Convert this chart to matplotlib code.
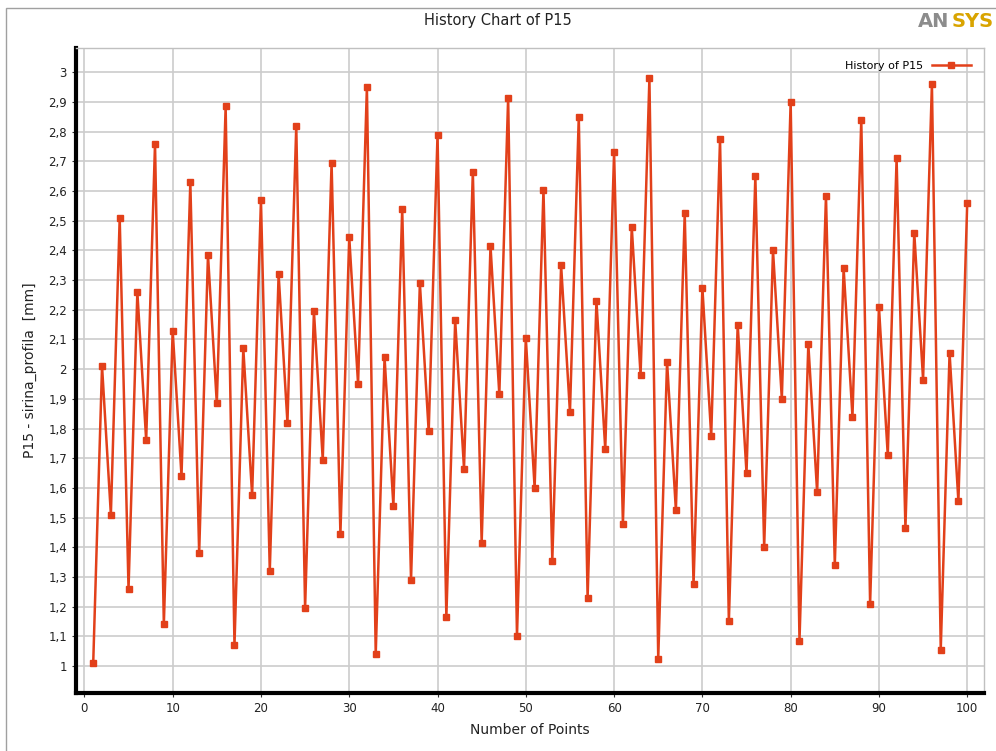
import numpy as np
import matplotlib.pyplot as plt
from matplotlib.patches import Rectangle
from matplotlib.ticker import FuncFormatter

# P15 values
points = list(range(1, 101))
p15 = [1.01, 2.01, 1.51, 2.51, 1.26, 2.26, 1.76, 2.76, 1.14, 2.13,
       1.64, 2.63, 1.38, 2.385, 1.885, 2.885, 1.07, 2.07, 1.575, 2.57,
       1.32, 2.32, 1.82, 2.82, 1.195, 2.195, 1.695, 2.695, 1.445, 2.445,
       1.95, 2.95, 1.04, 2.04, 1.54, 2.54, 1.29, 2.29, 1.79, 2.79,
       1.165, 2.165, 1.665, 2.665, 1.415, 2.415, 1.915, 2.915, 1.10, 2.105,
       1.60, 2.605, 1.355, 2.35, 1.855, 2.85, 1.23, 2.23, 1.73, 2.73,
       1.48, 2.48, 1.98, 2.98, 1.025, 2.025, 1.525, 2.525, 1.275, 2.275,
       1.775, 2.775, 1.15, 2.15, 1.65, 2.65, 1.40, 2.40, 1.90, 2.90,
       1.085, 2.085, 1.585, 2.585, 1.34, 2.34, 1.84, 2.84, 1.21, 2.21,
       1.71, 2.71, 1.465, 2.46, 1.965, 2.96, 1.055, 2.055, 1.555, 2.56]

xticks = np.arange(0, 101, 10)
yticks = np.round(np.arange(1.0, 3.01, 0.1), 1)

fig = plt.figure(figsize=(9.96, 7.51), dpi=100)
fig.patch.set_facecolor('white')
# thin grey frame round the chart panel
fig.patches.append(Rectangle((6 / 996, -0.01), 1.0, 1 - 8 / 751 + 0.01,
                             transform=fig.transFigure, fill=False,
                             edgecolor='#a0a0a0', linewidth=1.0))

ax = fig.add_axes([76 / 996, 58 / 751, 908 / 996, 645 / 751])
ax.plot(points, p15, color='#e2401a', linewidth=1.8, marker='s',
        markersize=5, label='History of P15', zorder=3)

ax.set_xlim(-0.95, 101.9)
ax.set_ylim(0.909, 3.082)
ax.set_xticks(xticks)
ax.set_yticks(yticks)
ax.yaxis.set_major_formatter(FuncFormatter(
    lambda v, p: ('%g' % round(v, 1)).replace('.', ',')))
ax.grid(True, color='#cccccc', linewidth=1.2)
ax.set_axisbelow(True)

for s in ['left', 'bottom']:
    ax.spines[s].set_linewidth(3.0)
    ax.spines[s].set_color('black')
for s in ['top', 'right']:
    ax.spines[s].set_linewidth(1.0)
    ax.spines[s].set_color('#c0c0c0')

ax.tick_params(axis='both', labelsize=8.5, colors='#333333', length=3,
               width=0.8, direction='out')
ax.tick_params(axis='both', labelcolor='#222222')
ax.set_xlabel('Number of Points', fontsize=10, color='#222222', labelpad=6)
ax.set_ylabel('P15 - sirina_profila  [mm]', fontsize=10, color='#222222',
              labelpad=8)

leg = ax.legend(loc='upper right', frameon=False, markerfirst=False,
                fontsize=8, handlelength=3.5, borderaxespad=0.8)

fig.text(0.5, 0.973, 'History Chart of P15', ha='center', va='center',
         fontsize=10.5, color='#222222')
# logo, split in two colours
fig.text(0.9535, 0.972, 'AN', ha='right', va='center', fontsize=14,
         fontweight='bold', color='#8c8c8c')
fig.text(0.9555, 0.972, 'SYS', ha='left', va='center', fontsize=14,
         fontweight='bold', color='#d9a400')

fig.savefig('out.png', dpi=100)
